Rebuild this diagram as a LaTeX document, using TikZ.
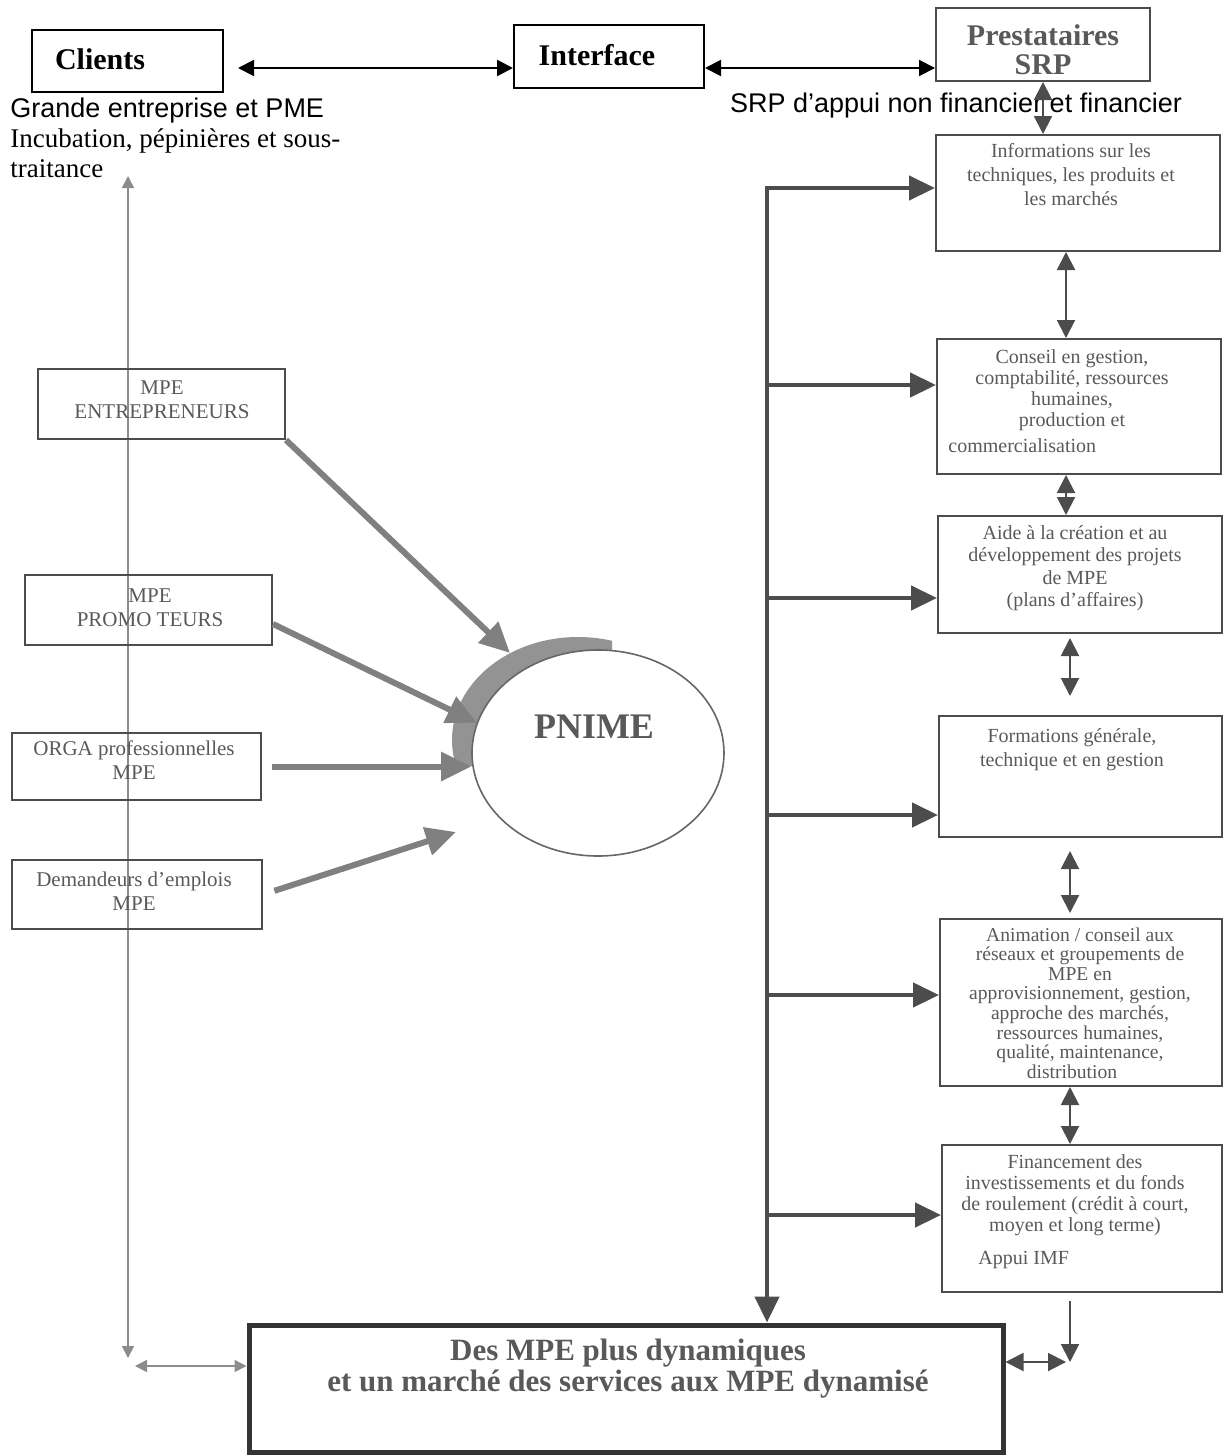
\documentclass[tikz,border=0pt]{standalone}
\usepackage{fontspec}
\setmainfont{Liberation Serif}
\setsansfont{Liberation Sans}
\usepackage{tikz}
\usetikzlibrary{arrows.meta, positioning, fit, calc, shapes.geometric}

\definecolor{inkgray}{gray}{0.30}
\definecolor{txtgray}{gray}{0.35}
\definecolor{shadegray}{gray}{0.50}
\definecolor{linegray}{gray}{0.55}

\begin{document}
\begin{tikzpicture}[x=0.5pt, y=-0.5pt,
    box/.style={draw=black!70, line width=1pt, inner sep=0pt},
    topbox/.style={draw=black, line width=1pt, inner sep=0pt},
    title/.style={font=\fontsize{15}{14.5}\selectfont\bfseries, inner sep=0pt},
    boxtext/.style={text=txtgray, align=center, anchor=north, inner sep=0pt,
        font=\fontsize{10}{10.6}\selectfont},
    lefttext/.style={text=txtgray, align=center, inner sep=0pt,
        font=\fontsize{10.5}{12}\selectfont},
    thickarr/.style={draw=shadegray, line width=3pt, -{Triangle[length=15pt,width=14pt]}},
    trunk/.style={draw=inkgray, line width=2.2pt},
    branch/.style={trunk, -{Triangle[length=13pt,width=12pt]}},
    link/.style={draw=inkgray, line width=1pt,
        {Triangle[length=9pt,width=9pt]}-{Triangle[length=9pt,width=9pt]}},
    toplink/.style={draw=black, line width=1pt,
        {Triangle[length=8pt,width=8pt]}-{Triangle[length=8pt,width=8pt]}},
    sidelink/.style={draw=linegray, line width=0.8pt,
        {Triangle[length=6pt,width=6pt]}-{Triangle[length=6pt,width=6pt]}}]

    \useasboundingbox (0,0) rectangle (1224,1456);

    % Top row: clients, interface, providers
    \node[topbox, fit={(32,30) (223,92)}] (clients) {};
    \node[title] (clientstxt) at (100,59) {Clients};
    \node[topbox, fit={(514,25) (704,88)}] (interface) {};
    \node[title] (interfacetxt) at (597,55) {Interface};
    \node[box, fit={(936,8) (1150,81)}] (prest) {};
    \node[title, text=txtgray, align=center] (presttxt) at (1043,50) {Prestataires\\SRP};

    \coordinate (topline) at (0,68);
    \draw[toplink, shorten <=7pt] (clients.east |- topline) -- (interface.west |- topline);
    \draw[toplink] (interface.east |- topline) -- (prest.west |- topline);

    \node[anchor=west, align=left, inner sep=0pt, font=\fontsize{13.5}{15}\selectfont]
        (clientsnote) at (10,138)
        {{\sffamily Grande entreprise et PME}\\Incubation, pépinières et sous-\\traitance};
    \node[font=\sffamily\fontsize{13.5}{15}\selectfont, inner sep=0pt]
        (srpnote) at (956,106) {SRP d’appui non financier et financier};

    % Services column
    \node[box, fit={(936,135) (1220,251)}] (info) {};
    \node[boxtext, font=\fontsize{10}{12}\selectfont] (infotxt) at (1071,143)
        {Informations sur les\\techniques, les produits et\\les marchés};
    \node[box, fit={(937,339) (1221,474)}] (conseil) {};
    \node[boxtext] (conseiltxt) at (1072,349)
        {Conseil en gestion,\\comptabilité, ressources\\humaines,\\production et};
    \node[boxtext, anchor=north west] (conseiltxt2) at (948,438) {commercialisation};
    \node[box, fit={(938,516) (1222,633)}] (aide) {};
    \node[boxtext, font=\fontsize{10}{11.2}\selectfont] (aidetxt) at (1075,525)
        {Aide à la création et au\\développement des projets\\de MPE\\(plans d’affaires)};
    \node[box, fit={(939,716) (1222,837)}] (formation) {};
    \node[boxtext, font=\fontsize{10}{12}\selectfont] (formationtxt) at (1072,728)
        {Formations générale,\\technique et en gestion};
    \node[box, fit={(940,919) (1222,1086)}] (animation) {};
    \node[boxtext, font=\fontsize{9.8}{9.8}\selectfont] (animationtxt) at (1080,927)
        {Animation / conseil aux\\réseaux et groupements de\\MPE en\\approvisionnement, gestion,\\approche des marchés,\\ressources humaines,\\qualité, maintenance,};
    \node[boxtext, font=\fontsize{9.8}{9.8}\selectfont] (animationtxt2) at (1072,1064) {distribution};
    \node[box, fit={(942,1145) (1222,1292)}] (finance) {};
    \node[boxtext] (financetxt) at (1075,1154)
        {Financement des\\investissements et du fonds\\de roulement (crédit à court,\\moyen et long terme)};
    \node[boxtext, anchor=north west] (financetxt2) at (978,1251) {Appui IMF};

    % Result
    \node[draw=black!80, line width=2.5pt, inner sep=0pt, fit={(249,1325) (1003,1452)}] (result) {};
    \node[font=\fontsize{15.5}{15.5}\selectfont\bfseries, text=txtgray, align=center, inner sep=0pt]
        (resulttxt) at (628,1369)
        {Des MPE plus dynamiques\\et un marché des services aux MPE dynamisé};

    % Links along the column
    \coordinate (colA) at (1066,0);
    \coordinate (colB) at (1070,0);
    \draw[link] (prest.south) -- (info.north -| prest.south);
    \draw[link] (info.south -| colA) -- (conseil.north -| colA);
    \draw[link] (conseil.south -| colA) -- (aide.north -| colA);
    \draw[link, shorten <=2pt, shorten >=9.5pt] (aide.south -| colB) -- (formation.north -| colB);
    \draw[link, shorten <=6.5pt, shorten >=2.5pt] (formation.south -| colB) -- (animation.north -| colB);
    \draw[link] (animation.south -| colB) -- (finance.north -| colB);
    \coordinate (meet) at (1070,1362);
    \draw[draw=inkgray, line width=1pt, -{Triangle[length=9pt,width=9pt]}, shorten <=4pt]
        (finance.south -| meet) -- (meet);
    \draw[link, shorten >=2pt] (result.east |- meet) -- (meet);

    % Trunk and branches
    \coordinate (trunktop) at (767,188);
    \draw[branch] (trunktop) -- (trunktop |- result.north);
    \draw[branch, line cap=rect] (trunktop) -- (trunktop -| info.west);
    \foreach \b/\y in {conseil/385, aide/598, formation/815, animation/995, finance/1215}
        \draw[branch] (767,\y) -- (\b.west |- 0,\y);

    % Left side actors
    \coordinate (leftup) at (128,176);
    \coordinate (leftdown) at (128,1358);
    \draw[sidelink] (leftup) -- (leftdown);
    \coordinate (leftfoot) at (135,1366);
    \draw[sidelink] (leftfoot) -- (result.west |- leftfoot);

    \node[box, fit={(38,369) (285,439)}] (entre) {};
    \node[lefttext] (entretxt) at (162,400) {MPE\\ENTREPRENEURS};
    \node[box, fit={(25,575) (272,645)}] (promo) {};
    \node[lefttext] (promotxt) at (150,608) {MPE\\PROMO TEURS};
    \node[box, fit={(12,733) (261,800)}] (orga) {};
    \node[lefttext] (orgatxt) at (134,760) {ORGA professionnelles\\MPE};
    \node[box, fit={(12,860) (262,929)}] (demand) {};
    \node[lefttext] (demandtxt) at (134,891) {Demandeurs d’emplois\\MPE};

    % PNIME with its shade
    \begin{scope}
        \clip (440,620) rectangle (612,765);
        \node[ellipse, fill=shadegray!85, minimum width=126pt, minimum height=103pt, inner sep=0pt]
            (shade) at (578,740) {};
    \end{scope}
    \node[ellipse, draw=black!60, fill=white, line width=0.8pt,
        minimum width=126pt, minimum height=103pt, inner sep=0pt] (pnime) at (598,753) {};
    \node[font=\fontsize{18}{18}\selectfont\bfseries, text=txtgray, inner sep=0pt]
        (pnimetxt) at (594,727) {PNIME};

    \coordinate (demtip) at (456,832);
    \draw[thickarr] (entre.south east) -- (shade.128);
    \draw[thickarr] ([yshift=-7pt]promo.east) -- (pnime.166);
    \draw[thickarr, shorten <=5pt] (orga.east) -- (pnime.west |- orga.east);
    \draw[thickarr, shorten <=6pt] (demand.east) -- (demtip);

\end{tikzpicture}
\end{document}
